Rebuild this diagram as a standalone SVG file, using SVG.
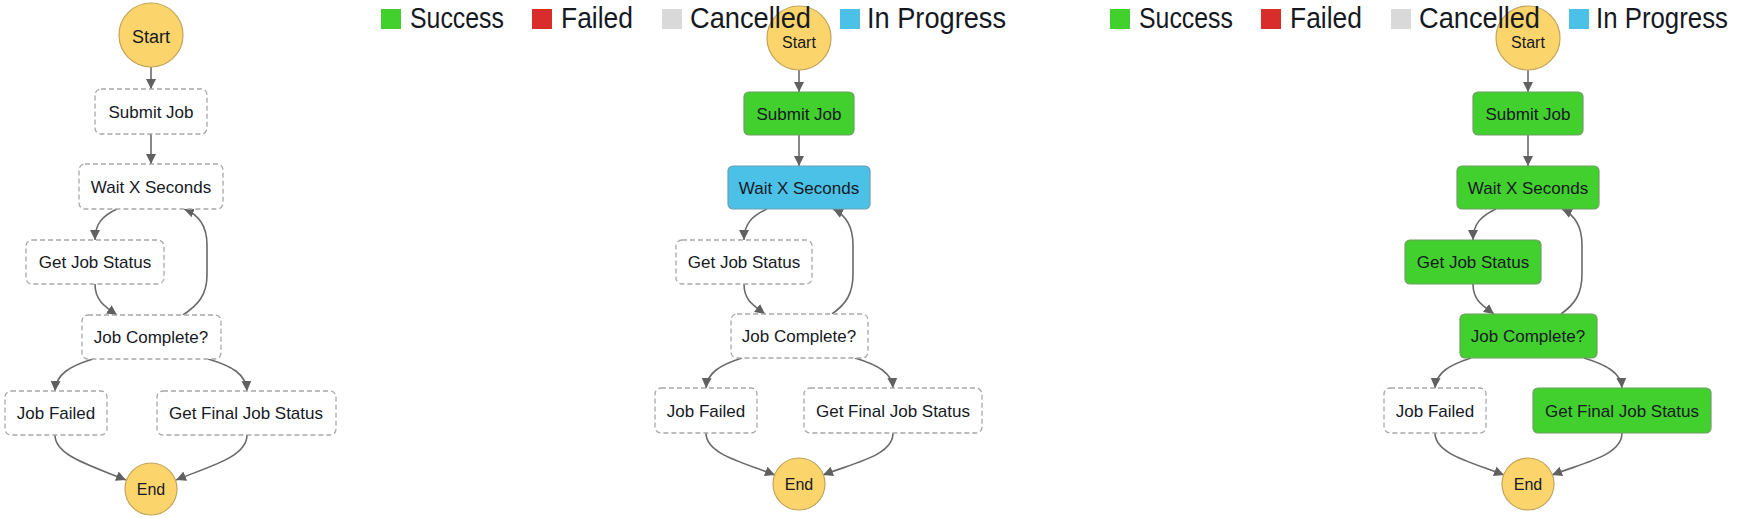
<svg xmlns="http://www.w3.org/2000/svg" width="1738" height="518" viewBox="0 0 1738 518">
<defs>
<marker id="arr" markerUnits="userSpaceOnUse" markerWidth="10" markerHeight="10" refX="10" refY="5" orient="auto">
<path d="M0,0 L10,5 L0,10 z" fill="#606060"/>
</marker>
<style>
.edge{fill:none;stroke:#6a6a6a;stroke-width:1.6;marker-end:url(#arr)}
.pending{fill:#ffffff;stroke:#a8a8a8;stroke-width:1.3;stroke-dasharray:5 3}
.ok{fill:#41d02e;stroke:#6f9e62;stroke-width:1.2}
.prog{fill:#4bc1e8;stroke:#6c9fb2;stroke-width:1.2}
.term{fill:#fcd46c;stroke:#c2a55c;stroke-width:1.2}
.lbl{font-family:"Liberation Sans",Arial,sans-serif;font-size:17px;fill:#16191f;text-anchor:middle;dominant-baseline:central}
.slbl{font-family:"Liberation Sans",Arial,sans-serif;font-size:18px;fill:#16191f;text-anchor:middle;dominant-baseline:central}
.elbl{font-family:"Liberation Sans",Arial,sans-serif;font-size:16px;fill:#16191f;text-anchor:middle;dominant-baseline:central}
.leg{font-family:"Liberation Sans",Arial,sans-serif;font-size:29px;fill:#16191f}
</style>
</defs>
<rect width="1738" height="518" fill="#ffffff"/>

<!-- Panel 1 -->
<g id="connectors-1">
<path class="edge" d="M151,67 L151,89"/>
<path class="edge" d="M151,134 L151,164"/>
<path class="edge" d="M117,209 C102,216 95,224 95,240"/>
<path class="edge" d="M95,284 C95,300 104,306 117,315"/>
<path class="edge" d="M183,315 C198,305 207,295 207,275 L207,245 C207,228 200,215 184,209"/>
<path class="edge" d="M93,359 C70,366 56,374 55,391"/>
<path class="edge" d="M208,359 C232,366 246,374 247,391"/>
<path class="edge" d="M55,435 C55,456 92,466 126,480"/>
<path class="edge" d="M247,435 C247,457 210,466 176,480"/>
</g>
<g id="p1-start"><circle class="term" cx="151" cy="35" r="32"/><text class="slbl" x="151" y="37">Start</text></g>
<g id="p1-submit"><rect class="pending" x="95" y="89" width="112" height="45" rx="6"/><text class="lbl" x="151" y="112">Submit Job</text></g>
<g id="p1-wait"><rect class="pending" x="79" y="164" width="144" height="45" rx="6"/><text class="lbl" x="151" y="187">Wait X Seconds</text></g>
<g id="p1-getstatus"><rect class="pending" x="26" y="240" width="138" height="44" rx="6"/><text class="lbl" x="95" y="262">Get Job Status</text></g>
<g id="p1-complete"><rect class="pending" x="82" y="315" width="139" height="44" rx="6"/><text class="lbl" x="151" y="337">Job Complete?</text></g>
<g id="p1-failed"><rect class="pending" x="5" y="391" width="102" height="44" rx="6"/><text class="lbl" x="56" y="413">Job Failed</text></g>
<g id="p1-final"><rect class="pending" x="157" y="391" width="179" height="44" rx="6"/><text class="lbl" x="246" y="413">Get Final Job Status</text></g>
<g id="p1-end"><circle class="term" cx="151" cy="489" r="26"/><text class="elbl" x="151" y="489">End</text></g>

<!-- Panel 2 -->
<g id="connectors-2">
<path class="edge" d="M799,70 L799,92"/>
<path class="edge" d="M799,135 L799,166"/>
<path class="edge" d="M767,209 C752,216 744,224 744,240"/>
<path class="edge" d="M744,284 C744,300 753,305 765,314"/>
<path class="edge" d="M832,314 C846,304 853,294 853,274 L853,245 C853,228 846,215 833,209"/>
<path class="edge" d="M742,358 C720,365 707,373 706,388"/>
<path class="edge" d="M855,358 C878,365 892,373 893,388"/>
<path class="edge" d="M706,433 C706,454 742,462 775,475"/>
<path class="edge" d="M893,433 C893,455 857,462 823,475"/>
</g>
<g id="p2-start"><circle class="term" cx="799" cy="38" r="32"/><text class="elbl" x="799" y="42">Start</text></g>
<g id="p2-submit"><rect class="ok" x="744" y="92" width="110" height="43" rx="5"/><text class="lbl" x="799" y="114">Submit Job</text></g>
<g id="p2-wait"><rect class="prog" x="728" y="166" width="142" height="43" rx="5"/><text class="lbl" x="799" y="188">Wait X Seconds</text></g>
<g id="p2-getstatus"><rect class="pending" x="676" y="240" width="136" height="44" rx="6"/><text class="lbl" x="744" y="262">Get Job Status</text></g>
<g id="p2-complete"><rect class="pending" x="731" y="314" width="137" height="44" rx="6"/><text class="lbl" x="799" y="336">Job Complete?</text></g>
<g id="p2-failed"><rect class="pending" x="655" y="388" width="102" height="45" rx="6"/><text class="lbl" x="706" y="411">Job Failed</text></g>
<g id="p2-final"><rect class="pending" x="804" y="388" width="178" height="45" rx="6"/><text class="lbl" x="893" y="411">Get Final Job Status</text></g>
<g id="p2-end"><circle class="term" cx="799" cy="484" r="26"/><text class="elbl" x="799" y="484">End</text></g>
<g id="legend-2">
<rect x="381" y="9" width="20" height="20" fill="#41d02e"/><text class="leg" x="410" y="28" textLength="94" lengthAdjust="spacingAndGlyphs">Success</text>
<rect x="532" y="9" width="20" height="20" fill="#d92d2b"/><text class="leg" x="561" y="28" textLength="72" lengthAdjust="spacingAndGlyphs">Failed</text>
<rect x="662" y="9" width="20" height="20" fill="#d9d9d9"/><text class="leg" x="690" y="28" textLength="121" lengthAdjust="spacingAndGlyphs">Cancelled</text>
<rect x="840" y="9" width="20" height="20" fill="#4bc1e8"/><text class="leg" x="867" y="28" textLength="139" lengthAdjust="spacingAndGlyphs">In Progress</text>
</g>

<!-- Panel 3 -->
<g id="connectors-3">
<path class="edge" d="M1528,70 L1528,92"/>
<path class="edge" d="M1528,135 L1528,166"/>
<path class="edge" d="M1496,209 C1481,216 1473,224 1473,240"/>
<path class="edge" d="M1473,284 C1473,300 1482,305 1494,314"/>
<path class="edge" d="M1561,314 C1575,304 1582,294 1582,274 L1582,245 C1582,228 1575,215 1562,209"/>
<path class="edge" d="M1471,358 C1449,365 1436,373 1435,388"/>
<path class="edge" d="M1584,358 C1607,365 1621,373 1622,388"/>
<path class="edge" d="M1435,433 C1435,454 1471,462 1504,475"/>
<path class="edge" d="M1622,433 C1622,455 1586,462 1552,475"/>
</g>
<g id="p3-start"><circle class="term" cx="1528" cy="38" r="32"/><text class="elbl" x="1528" y="42">Start</text></g>
<g id="p3-submit"><rect class="ok" x="1473" y="92" width="110" height="43" rx="5"/><text class="lbl" x="1528" y="114">Submit Job</text></g>
<g id="p3-wait"><rect class="ok" x="1457" y="166" width="142" height="43" rx="5"/><text class="lbl" x="1528" y="188">Wait X Seconds</text></g>
<g id="p3-getstatus"><rect class="ok" x="1405" y="240" width="136" height="44" rx="5"/><text class="lbl" x="1473" y="262">Get Job Status</text></g>
<g id="p3-complete"><rect class="ok" x="1460" y="314" width="137" height="44" rx="5"/><text class="lbl" x="1528" y="336">Job Complete?</text></g>
<g id="p3-failed"><rect class="pending" x="1384" y="388" width="102" height="45" rx="6"/><text class="lbl" x="1435" y="411">Job Failed</text></g>
<g id="p3-final"><rect class="ok" x="1533" y="388" width="178" height="45" rx="5"/><text class="lbl" x="1622" y="411">Get Final Job Status</text></g>
<g id="p3-end"><circle class="term" cx="1528" cy="484" r="26"/><text class="elbl" x="1528" y="484">End</text></g>
<g id="legend-3">
<rect x="1110" y="9" width="20" height="20" fill="#41d02e"/><text class="leg" x="1139" y="28" textLength="94" lengthAdjust="spacingAndGlyphs">Success</text>
<rect x="1261" y="9" width="20" height="20" fill="#d92d2b"/><text class="leg" x="1290" y="28" textLength="72" lengthAdjust="spacingAndGlyphs">Failed</text>
<rect x="1391" y="9" width="20" height="20" fill="#d9d9d9"/><text class="leg" x="1419" y="28" textLength="121" lengthAdjust="spacingAndGlyphs">Cancelled</text>
<rect x="1569" y="9" width="20" height="20" fill="#4bc1e8"/><text class="leg" x="1596" y="28" textLength="132" lengthAdjust="spacingAndGlyphs">In Progress</text>
</g>
</svg>
